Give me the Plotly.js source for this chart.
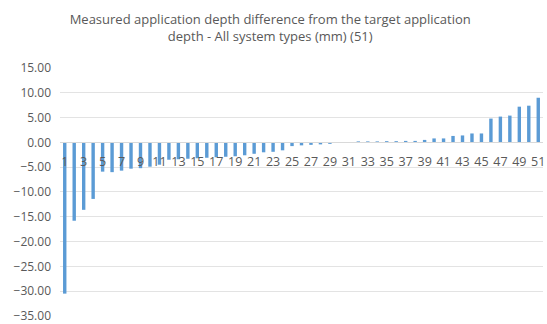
<!DOCTYPE html>
<html>
<head>
<meta charset="utf-8">
<script src="https://cdn.plot.ly/plotly-3.0.1.min.js"></script>
<style>html,body{margin:0;padding:0;background:#fff}#chart{width:547px;height:324px}</style>
</head>
<body>
<div id="chart"></div>
<script>
const categories = Array.from({length: 51}, (_, i) => i + 1);
const values = [
  -30.5, -15.8, -13.6, -11.4, -5.9, -6.0, -5.7, -5.3, -5.2, -4.9,
  -4.5, -3.5, -3.4, -3.3, -3.2, -3.1, -3.0, -2.9, -2.8, -2.6,
  -2.3, -2.0, -1.9, -1.6, -0.75, -0.6, -0.5, -0.4, -0.3, -0.1,
  0.0, 0.2, 0.2, 0.2, 0.25, 0.25, 0.3, 0.3, 0.5, 0.8,
  0.8, 1.3, 1.4, 1.8, 1.8, 4.8, 5.2, 5.4, 7.2, 7.4,
  9.0
];
const titleText = 'Measured application depth difference from the target application<br>depth - All system types (mm) (51)';

const trace = {
  type: 'bar',
  x: categories,
  y: values,
  marker: {color: '#5B9BD5'},
  hoverinfo: 'x+y'
};

const layout = {
  width: 547, height: 324,
  margin: {l: 60, r: 4, t: 68, b: 8},
  paper_bgcolor: '#ffffff',
  plot_bgcolor: '#ffffff',
  showlegend: false,
  bargap: 0.64,
  font: {family: 'Open Sans, sans-serif', color: '#595959'},
  title: {
    text: titleText,
    font: {size: 13, color: '#595959', family: 'Open Sans, sans-serif'},
    x: 0.494, xanchor: 'center',
    y: 0.925, yanchor: 'middle'
  },
  xaxis: {
    type: 'linear',
    range: [0.5, 51.5],
    tick0: 1, dtick: 2,
    anchor: 'free', position: 0.7,
    showgrid: false,
    zeroline: false,
    showline: true, linecolor: '#d9d9d9', linewidth: 1,
    ticks: '',
    tickfont: {size: 12.5, color: '#595959'},
    ticklabelstandoff: 8,
    fixedrange: true
  },
  yaxis: {
    range: [-35.01, 15],
    tickvals: [15, 10, 5, 0, -5, -10, -15, -20, -25, -30, -35],
    tickformat: '.2f',
    showgrid: true, gridcolor: '#e3e3e3', gridwidth: 1,
    zeroline: false,
    showline: false,
    ticks: '',
    tickfont: {size: 12, color: '#595959'},
    ticklabelstandoff: 8,
    ticklabeloverflow: 'allow',
    fixedrange: true
  }
};

Plotly.newPlot('chart', [trace], layout, {displayModeBar: false, staticPlot: true});
</script>
</body>
</html>
